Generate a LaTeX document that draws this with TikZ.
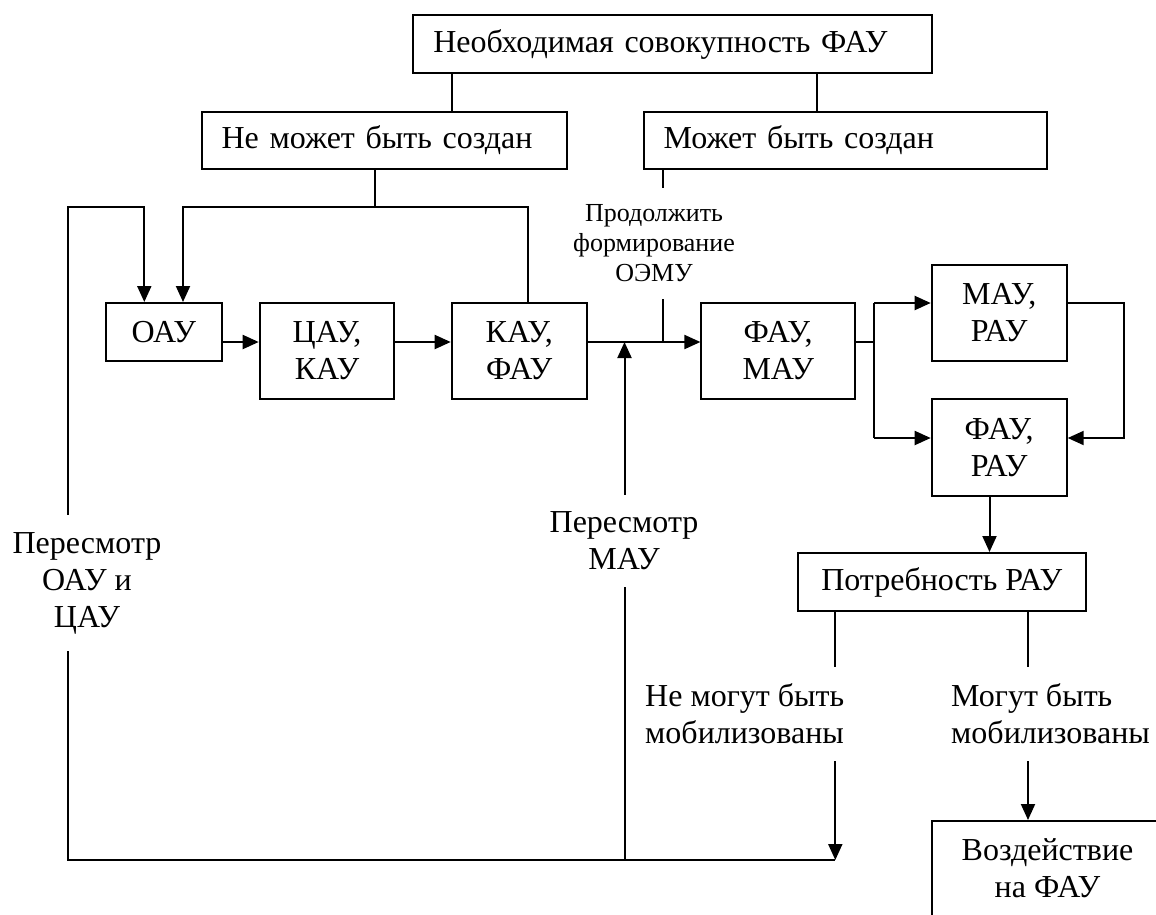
\documentclass[tikz,border=0pt]{standalone}
\usepackage{fontspec}
\setmainfont{Liberation Serif}
\usetikzlibrary{arrows.meta}
\begin{document}
\begin{tikzpicture}[x=1pt,y=-1pt,
  every node/.style={font=\fontsize{32}{37}\selectfont},
  box/.style={draw, line width=2pt, inner sep=0pt, align=center},
  lbox/.style={draw, line width=2pt, inner xsep=20pt, inner ysep=0pt, align=left},
  lab/.style={inner xsep=0pt, inner ysep=17pt, align=center},
  conn/.style={line width=2pt},
  arr/.style={line width=2pt, -{Triangle[length=16pt,width=14pt]}},
]
\useasboundingbox (0,0) rectangle (1156,914);
\clip (0,0) rectangle (1156,914);

% boxes
\node[lbox, text width=478.5pt, minimum height=58pt] (need) at (672.5,44) {Необходимая совокупность ФАУ};
\node[lbox, text width=325.4pt, minimum height=57pt] (cannot) at (384.3,140.5) {Не может быть создан};
\node[lbox, text width=363.7pt, minimum height=57pt] (can) at (845.5,140.5) {Может быть создан};
\node[box, minimum width=115.6pt, minimum height=58pt] (oau) at (163.8,332) {ОАУ};
\node[box, minimum width=134.6pt, minimum height=96pt] (cau) at (327,351) {ЦАУ,\\КАУ};
\node[box, minimum width=135pt, minimum height=96pt] (kau) at (519.2,351) {КАУ,\\ФАУ};
\node[box, minimum width=153.6pt, minimum height=96pt] (fm) at (778.2,351) {ФАУ,\\МАУ};
\node[box, minimum width=135pt, minimum height=96pt] (mr) at (999.2,313) {МАУ,\\РАУ};
\node[box, minimum width=135pt, minimum height=97pt] (fr) at (999.2,447.5) {ФАУ,\\РАУ};
\node[box, minimum width=288pt, minimum height=58pt] (potr) at (941.7,582) {Потребность РАУ};
\node[box, minimum width=231.6pt, minimum height=95pt] (vozd) at (1047.5,868.5) {Воздействие\\на ФАУ};

% free-standing labels on the connectors
\node[lab] (lab1) at (87,583) {Пересмотр\\ОАУ и\\ЦАУ};
\node[lab] (lab2) at (624,541) {Пересмотр\\МАУ};
\node[lab, font=\fontsize{26}{30}\selectfont] (lab3) at (654,243.4) {Продолжить\\формирование\\ОЭМУ};
\node[lab, anchor=west, align=left] (lab4) at (645,714) {Не могут быть\\мобилизованы};
\node[lab, anchor=west, align=left] (lab5) at (951,714) {Могут быть\\мобилизованы};

% connector columns and rows
\coordinate (xA) at (452,0);
\coordinate (xB) at (817,0);
\coordinate (xC) at (374.7,0);
\coordinate (xD) at (528,0);
\coordinate (xE) at (183,0);
\coordinate (xL) at (67.7,0);
\coordinate (xF) at (144.3,0);
\coordinate (xG) at (874,0);
\coordinate (xH) at (1123.7,0);
\coordinate (xI) at (989.5,0);
\coordinate (xJ) at (835.3,0);
\coordinate (xK) at (1028,0);
\coordinate (xM) at (624.5,0);
\coordinate (xN) at (662.6,0);
\coordinate (rowT) at (0,207);
\coordinate (rowM) at (0,342);
\coordinate (yU) at (0,303);
\coordinate (yD) at (0,438);
\coordinate (rowB) at (0,860);

% top tree
\draw[conn] (need.south -| xA) -- (cannot.north -| xA);
\draw[conn] (need.south -| xB) -- (can.north -| xB);
\draw[conn] (cannot.south -| xC) -- (xC |- rowT);
\draw[arr] (kau.north -| xD) -- (xD |- rowT) -- (xE |- rowT) -- (oau.north -| xE);

% main chain
\draw[arr] (oau.east |- rowM) -- (cau.west |- rowM);
\draw[arr] (cau.east |- rowM) -- (kau.west |- rowM);
\draw[arr] (kau.east |- rowM) -- (fm.west |- rowM);
\draw[conn] (can.south -| xN) -- (xN |- lab3.north);
\draw[conn] (xN |- lab3.south) -- (xN |- rowM);

% branching to МАУ/РАУ and ФАУ/РАУ
\draw[conn] (fm.east |- rowM) -- (xG |- rowM);
\draw[conn] (xG |- yU) -- (xG |- yD);
\draw[arr] (xG |- yU) -- (mr.west |- yU);
\draw[arr] (xG |- yD) -- (fr.west |- yD);
\draw[arr] (mr.east |- yU) -- (xH |- yU) -- (xH |- yD) -- (fr.east |- yD);
\draw[arr] (fr.south -| xI) -- (potr.north -| xI);

% outcomes of the need for РАУ
\draw[conn] (potr.south -| xJ) -- (xJ |- lab4.north);
\draw[arr] (xJ |- lab4.south) -- (xJ |- rowB);
\draw[conn] (potr.south -| xK) -- (xK |- lab5.north);
\draw[arr] (xK |- lab5.south) -- (vozd.north -| xK);

% feedback loops
\draw[arr] (xL |- lab1.north) -- (xL |- rowT) -- (xF |- rowT) -- (oau.north -| xF);
\draw[conn] (xL |- lab1.south) -- (xL |- rowB) -- (xJ |- rowB);
\draw[arr] (xM |- lab2.north) -- (xM |- rowM);
\draw[conn] (xM |- lab2.south) -- (xM |- rowB);
\end{tikzpicture}
\end{document}
